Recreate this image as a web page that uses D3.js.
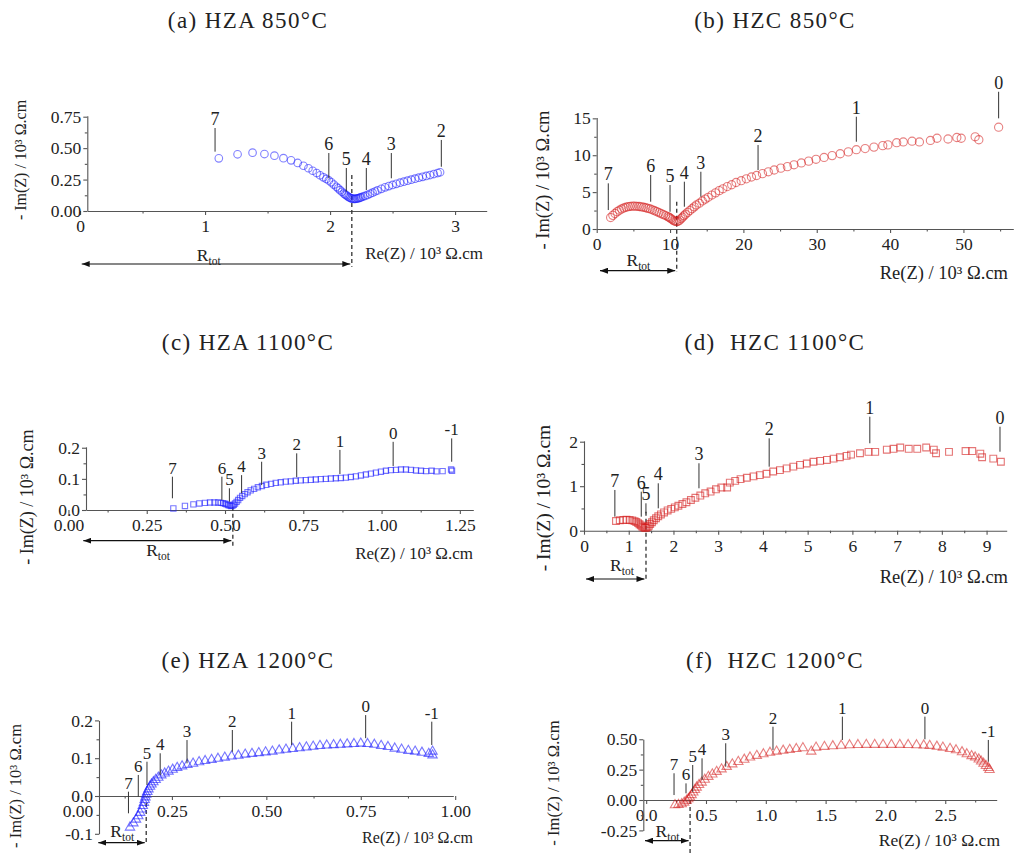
<!DOCTYPE html>
<html>
<head>
<meta charset="utf-8">
<script src="https://cdn.jsdelivr.net/npm/d3@7"></script>
<style>
  body { margin: 0; background: #fff; }
  svg { display: block; }
  text { font-family: "Liberation Serif", "Times New Roman", serif; fill: #222; white-space: pre; }
</style>
</head>
<body>
<svg id="fig" width="1016" height="854"></svg>
<script>
// Nyquist plots: Re(Z) vs -Im(Z), both in 10^3 Ω.cm, for HZA / HZC at three temperatures.

// ---- measured spectra: [Re, -Im] ----
const hza850 = [[1.11,0.419],[1.26,0.451],[1.38,0.464],[1.475,0.453],[1.555,0.44],[1.627,0.42],[1.688,0.403],[1.741,0.382],[1.787,0.36],[1.827,0.34],
  [1.861,0.32],[1.893,0.302],[1.92,0.284],[1.947,0.268],[1.97,0.255],[1.99,0.243],[2.01,0.228],[2.03,0.21],[2.05,0.193],[2.065,0.18],
  [2.08,0.166],[2.095,0.153],[2.11,0.14],[2.12,0.132],[2.13,0.125],[2.14,0.117],[2.15,0.11],[2.16,0.105],[2.17,0.101],[2.18,0.098],
  [2.19,0.097],[2.2,0.097],[2.21,0.098],[2.22,0.1],[2.23,0.103],[2.24,0.106],[2.25,0.11],[2.265,0.115],[2.28,0.12],[2.3,0.128],
  [2.32,0.137],[2.34,0.146],[2.36,0.155],[2.38,0.164],[2.41,0.176],[2.44,0.188],[2.47,0.198],[2.5,0.207],[2.53,0.216],[2.56,0.225],
  [2.59,0.233],[2.62,0.241],[2.65,0.249],[2.68,0.257],[2.71,0.265],[2.74,0.272],[2.77,0.279],[2.8,0.286],[2.83,0.294],[2.86,0.302],[2.88,0.308]];

const hzc850 = [[1.9,1.55],[2.2,1.85],[2.5,2.1],[2.8,2.35],[3.1,2.55],[3.4,2.72],[3.7,2.85],[4.0,2.95],[4.3,3.03],[4.6,3.08],
  [4.9,3.1],[5.2,3.1],[5.5,3.08],[5.8,3.05],[6.1,3.0],[6.4,2.95],[6.7,2.88],[7.0,2.8],[7.3,2.72],[7.6,2.6],
  [7.9,2.48],[8.2,2.35],[8.5,2.22],[8.8,2.08],[9.1,1.95],[9.4,1.82],[9.7,1.68],[9.9,1.56],[10.1,1.42],[10.3,1.28],
  [10.5,1.14],[10.7,1.04],[10.9,1.0],[11.1,1.05],[11.3,1.2],[11.5,1.4],[11.7,1.6],[11.9,1.8],[12.1,2.0],[12.4,2.25],
  [12.7,2.5],[13.0,2.75],[13.3,3.0],[13.6,3.25],[14.0,3.5],[14.4,3.8],[14.8,4.05],[15.2,4.3],[15.7,4.6],[16.2,4.9],
  [16.7,5.2],[17.2,5.45],[17.8,5.75],[18.4,6.0],[19.0,6.3],[19.7,6.55],[20.4,6.8],[21.1,7.05],[21.8,7.25],[22.6,7.5],
  [23.4,7.75],[24.2,8.0],[25.1,8.25],[26.0,8.45],[26.9,8.7],[27.9,8.95],[28.9,9.2],[29.9,9.45],[31.0,9.7],[32.1,9.95],
  [33.2,10.2],[34.3,10.45],[35.4,10.75],[36.6,10.9],[37.8,11.1],[39.0,11.3],[39.7,11.4],[40.9,11.7],[41.8,11.8],[43.0,11.9],
  [44.0,11.8],[45.5,12.0],[46.4,12.3],[47.9,12.2],[49.1,12.4],[49.7,12.3],[51.6,12.5],[52.1,12.1],[54.8,13.8]];

const hza1100 = [[0.335,0.005],[0.372,0.013],[0.399,0.018],[0.418,0.021],[0.436,0.023],[0.452,0.024],[0.466,0.024],[0.478,0.024],[0.487,0.023],[0.494,0.022],
  [0.5,0.02],[0.505,0.018],[0.51,0.016],[0.515,0.014],[0.52,0.013],[0.524,0.014],[0.528,0.017],[0.532,0.021],[0.537,0.026],[0.542,0.032],
  [0.548,0.039],[0.555,0.045],[0.563,0.051],[0.572,0.057],[0.582,0.063],[0.593,0.068],[0.605,0.073],[0.618,0.077],[0.632,0.081],[0.647,0.084],
  [0.662,0.087],[0.678,0.089],[0.694,0.091],[0.71,0.092],[0.726,0.094],[0.742,0.095],[0.758,0.096],[0.774,0.097],[0.79,0.098],[0.806,0.099],
  [0.822,0.1],[0.838,0.101],[0.854,0.102],[0.87,0.103],[0.886,0.104],[0.902,0.106],[0.918,0.108],[0.934,0.111],[0.95,0.114],[0.966,0.117],
  [0.982,0.12],[0.998,0.123],[1.014,0.126],[1.03,0.128],[1.046,0.129],[1.062,0.13],[1.078,0.13],[1.094,0.129],[1.11,0.127],[1.126,0.126],
  [1.142,0.125],[1.16,0.126],[1.175,0.124],[1.195,0.125],[1.222,0.13],[1.225,0.126]];

const hzc1100 = [[0.715,0.218],[0.8,0.235],[0.88,0.24],[0.95,0.245],[1.02,0.24],[1.08,0.232],[1.13,0.215],[1.17,0.195],[1.21,0.17],[1.24,0.145],
  [1.27,0.12],[1.3,0.095],[1.33,0.075],[1.36,0.065],[1.39,0.065],[1.42,0.08],[1.45,0.11],[1.48,0.15],[1.52,0.19],[1.56,0.235],
  [1.61,0.28],[1.66,0.325],[1.72,0.365],[1.79,0.41],[1.87,0.455],[1.95,0.49],[2.03,0.525],[2.11,0.56],[2.2,0.6],[2.29,0.64],
  [2.39,0.69],[2.49,0.74],[2.6,0.79],[2.71,0.84],[2.83,0.88],[2.95,0.93],[3.07,0.97],[3.2,0.97],[3.26,1.08],[3.38,1.12],
  [3.5,1.16],[3.64,1.19],[3.79,1.22],[3.93,1.25],[4.08,1.28],[4.23,1.33],[4.38,1.36],[4.53,1.4],[4.68,1.44],[4.83,1.48],
  [4.98,1.51],[5.13,1.55],[5.28,1.57],[5.43,1.59],[5.58,1.62],[5.72,1.65],[5.87,1.68],[5.97,1.71],[6.17,1.74],[6.36,1.77],
  [6.51,1.77],[6.77,1.82],[6.92,1.84],[7.07,1.87],[7.26,1.84],[7.45,1.84],[7.65,1.87],[7.82,1.82],[7.87,1.74],[8.16,1.77],
  [8.53,1.79],[8.68,1.79],[8.86,1.73],[8.9,1.65],[9.15,1.62],[9.32,1.55]];

const hza1200 = [[0.139,-0.083],[0.148,-0.072],[0.155,-0.062],[0.161,-0.053],[0.166,-0.044],[0.17,-0.035],[0.173,-0.026],[0.176,-0.018],[0.178,-0.01],[0.18,-0.003],
  [0.182,0.004],[0.185,0.011],[0.188,0.018],[0.192,0.025],[0.196,0.031],[0.201,0.037],[0.207,0.043],[0.214,0.049],[0.222,0.055],[0.231,0.06],
  [0.241,0.065],[0.252,0.07],[0.264,0.075],[0.277,0.079],[0.291,0.083],[0.306,0.086],[0.322,0.09],[0.338,0.093],[0.355,0.096],[0.372,0.099],
  [0.39,0.102],[0.408,0.105],[0.426,0.107],[0.444,0.11],[0.462,0.112],[0.48,0.114],[0.498,0.116],[0.516,0.118],[0.534,0.121],[0.552,0.123],
  [0.57,0.125],[0.588,0.127],[0.606,0.129],[0.624,0.131],[0.642,0.133],[0.66,0.134],[0.678,0.135],[0.696,0.136],[0.714,0.137],[0.732,0.138],
  [0.75,0.139],[0.768,0.138],[0.786,0.136],[0.804,0.133],[0.822,0.13],[0.84,0.126],[0.858,0.123],[0.876,0.12],[0.894,0.118],[0.912,0.115],
  [0.93,0.112],[0.94,0.108],[0.94,0.118]];

const hzc1200 = [[0.241,-0.041],[0.27,-0.038],[0.297,-0.033],[0.318,-0.02],[0.338,-0.005],[0.352,0.008],[0.366,0.022],[0.38,0.042],[0.394,0.063],[0.408,0.084],
  [0.422,0.104],[0.442,0.125],[0.464,0.145],[0.49,0.168],[0.52,0.192],[0.553,0.212],[0.589,0.233],[0.63,0.254],[0.673,0.274],[0.72,0.295],
  [0.77,0.315],[0.82,0.333],[0.868,0.351],[0.925,0.365],[0.98,0.378],[1.035,0.39],[1.09,0.4],[1.145,0.407],[1.2,0.414],[1.255,0.421],
  [1.31,0.428],[1.38,0.4],[1.42,0.433],[1.49,0.439],[1.56,0.444],[1.63,0.448],[1.7,0.452],[1.77,0.454],[1.84,0.455],[1.91,0.455],
  [1.98,0.455],[2.05,0.455],[2.12,0.455],[2.19,0.454],[2.26,0.452],[2.32,0.45],[2.37,0.447],[2.43,0.44],[2.48,0.433],[2.54,0.422],
  [2.59,0.411],[2.64,0.395],[2.68,0.378],[2.72,0.363],[2.75,0.351],[2.78,0.335],[2.8,0.318],[2.82,0.3],[2.84,0.282],[2.86,0.265],[2.87,0.249]];

// ---- frequency-decade annotations: [log f, Re, -Im at leader foot, -Im at leader head] ----
const hza850Dec  = [["7",1.08,0.472,0.66],["6",1.99,0.26,0.461],["5",2.13,0.154,0.342],["4",2.29,0.167,0.342],["3",2.49,0.26,0.461],["2",2.89,0.352,0.565]];
const hzc850Dec  = [["7",1.58,2.57,6.19],["6",7.36,3.7,7.32],["5",10.0,2.34,5.96],["4",11.95,3.02,6.41],["3",14.2,4.38,7.76],["2",22.0,7.99,11.38],["1",35.4,11.83,15.22],["0",54.8,15.0,18.6]];
const hza1100Dec = [["7",0.332,0.0376,0.107],["6",0.49,0.032,0.107],["5",0.514,0.0266,0.0697],["4",0.553,0.0536,0.112],["3",0.617,0.080,0.155],["2",0.729,0.105,0.182],["1",0.867,0.1156,0.193],["0",1.037,0.141,0.219],["-1",1.224,0.155,0.230]];
const hzc1100Dec = [["7",0.69,0.315,0.915],["6",1.28,0.315,0.876],["5",1.385,0.391,0.616],["4",1.66,0.503,1.065],["3",2.57,0.953,1.515],["2",4.14,1.438,2.076],["1",6.39,1.964,2.562],["0",9.30,1.775,2.337]];
const hza1200Dec = [["7",0.135,-0.0458,0.0114],["6",0.161,-0.0019,0.0556],["5",0.184,0.029,0.0907],["4",0.219,0.0556,0.113],["3",0.29,0.0865,0.148],["2",0.41,0.117,0.1746],["1",0.567,0.135,0.1966],["0",0.763,0.153,0.214],["-1",0.938,0.135,0.1966]];
const hzc1200Dec = [["7",0.233,0.041,0.22],["6",0.333,0.055,0.137],["5",0.389,0.068,0.288],["4",0.467,0.165,0.343],["3",0.665,0.274,0.467],["2",1.06,0.412,0.603],["1",1.64,0.494,0.686],["0",2.33,0.5,0.686],["-1",2.86,0.315,0.494]];

// ---- total resistance (10^3 Ω.cm) ----
const rTot = { a: 2.174, b: 10.91, c: 0.525, d: 1.386, e: 0.182, f: 0.367 };

// ---- tick values ----
const ticksReA = [0, 1, 2, 3],               ticksImA = [0, 0.25, 0.5, 0.75];
const ticksReB = [0, 10, 20, 30, 40, 50],    ticksImB = [0, 5, 10, 15];
const ticksReC = [0, 0.25, 0.5, 0.75, 1, 1.25], ticksImC = [0, 0.1, 0.2];
const ticksReD = [0, 1, 2, 3, 4, 5, 6, 7, 8, 9], ticksImD = [0, 1, 2];
const ticksReE = [0, 0.25, 0.5, 0.75, 1],    ticksImE = [-0.1, 0, 0.1, 0.2];
const ticksReF = [0, 0.5, 1, 1.5, 2, 2.5],   ticksImF = [-0.25, 0, 0.25, 0.5];

const midpoints = t => t.slice(1).map((v, i) => (v + t[i]) / 2);

const panels = [
  { key: "a", title: "(a) HZA 850°C", tx: 248, ty: 27.5, data: hza850, dec: hza850Dec, decFs: 18,
    mark: "circle", msize: 3.8, color: "#1a1aff", op: 0.55,
    x: { domain: [0.058, 3.253], range: [87.3, 486.7], ticks: ticksReA, minor: [0.5, 1.5, 2.5], fmt: "d" },
    y: { domain: [0, 0.758], range: [211, 115.7], ticks: ticksImA, minor: midpoints(ticksImA), fmt: ".2f" },
    xl: { x: 483, y: 258.5, fs: 17 }, yl: { x: 20, y: 160, fs: 16 },
    arrow: { x0: 81.7, y: 264, labDy: -9, labDx: -8, dashTop: 175, dashBot: 266.7 } },
  { key: "b", title: "(b) HZC 850°C", tx: 775, ty: 27.5, data: hzc850, dec: hzc850Dec, decFs: 18,
    mark: "circle", msize: 4.1, color: "#d41a1a", op: 0.55,
    x: { domain: [0, 56.8], range: [596.7, 1013.3], ticks: ticksReB, minor: [5, 15, 25, 35, 45, 55], fmt: "d" },
    y: { domain: [0, 15.1], range: [229, 117.6], ticks: ticksImB, minor: midpoints(ticksImB), fmt: "d" },
    xl: { x: 1008, y: 279, fs: 18.5 }, yl: { x: 543, y: 180, fs: 18.5 },
    arrow: { x0: 600, y: 270.7, labDy: -10.7, labDx: 0, dashTop: 201.7, dashBot: 272 } },
  { key: "c", title: "(c) HZA 1100°C", tx: 248, ty: 349.5, data: hza1100, dec: hza1100Dec, decFs: 17,
    mark: "square", msize: 28, color: "#1a1aff", op: 0.6,
    x: { domain: [0.056, 1.293], range: [86, 473.3], ticks: ticksReC, minor: [0.125, 0.375, 0.625, 0.875, 1.125], fmt: ".2f" },
    y: { domain: [0, 0.203], range: [510, 446.8], ticks: ticksImC, minor: midpoints(ticksImC), fmt: ".1f" },
    xl: { x: 473, y: 559, fs: 17 }, yl: { x: 27, y: 497, fs: 18 },
    arrow: { x0: 83.3, y: 540.7, labDy: 9.3, labDx: 0, dashTop: 506.7, dashBot: 546.7 } },
  { key: "d", title: "(d)  HZC 1100°C", tx: 775, ty: 349.5, data: hzc1100, dec: hzc1100Dec, decFs: 18,
    mark: "square", msize: 46, color: "#d41a1a", op: 0.6,
    x: { domain: [0, 9.45], range: [584, 1006.7], ticks: ticksReD, minor: [0.5, 1.5, 2.5, 3.5, 4.5, 5.5, 6.5, 7.5, 8.5, 9.5].filter(v => v < 9.45), fmt: "d" },
    y: { domain: [0, 2.02], range: [530.7, 440.8], ticks: ticksImD, minor: midpoints(ticksImD), fmt: "d" },
    xl: { x: 1008, y: 583, fs: 18.5 }, yl: { x: 543, y: 498, fs: 19.5 },
    arrow: { x0: 586, y: 579, labDy: -14, labDx: 6, dashTop: 511.7, dashBot: 580 } },
  { key: "e", title: "(e) HZA 1200°C", tx: 248, ty: 667.5, data: hza1200, dec: hza1200Dec, decFs: 17,
    mark: "triangle", msize: 38, color: "#1a1aff", op: 0.6,
    x: { domain: [0.057, 0.995], range: [99, 453.3], ticks: ticksReE, minor: [0.125, 0.375, 0.625, 0.875], fmt: ".2f" },
    y: { domain: [-0.1, 0.2], range: [833.8, 720.4], ticks: ticksImE, minor: midpoints(ticksImE), fmt: ".1f" },
    xl: { x: 473, y: 843, fs: 16 }, yl: { x: 15, y: 786, fs: 16.5 },
    arrow: { x0: 98.3, y: 842.7, labDy: -11, labDx: 0, dashTop: 803, dashBot: 844 } },
  { key: "f", title: "(f)  HZC 1200°C", tx: 775, ty: 667.5, data: hzc1200, dec: hzc1200Dec, decFs: 17,
    mark: "triangle", msize: 38, color: "#d41a1a", op: 0.55,
    x: { domain: [-0.024, 2.93], range: [643.3, 996.7], ticks: ticksReF, minor: [0.25, 0.75, 1.25, 1.75, 2.25, 2.75], fmt: ".1f" },
    y: { domain: [-0.25, 0.5], range: [830.4, 739.25], ticks: ticksImF, minor: midpoints(ticksImF), fmt: ".2f" },
    xl: { x: 1000, y: 846, fs: 17.5 }, yl: { x: 553, y: 783, fs: 16.7 },
    arrow: { x0: 645, y: 840.7, labDy: -9, labDx: 0, dashTop: 800, dashBot: 854 } }
];

const svg = d3.select("#fig");
svg.append("rect").attr("width", 1016).attr("height", 854).attr("fill", "#fff");

// double-headed arrow heads for the R_tot span
svg.append("defs").append("marker")
  .attr("id", "head").attr("viewBox", "0 0 8 6").attr("refX", 8).attr("refY", 3)
  .attr("markerWidth", 8).attr("markerHeight", 6).attr("markerUnits", "userSpaceOnUse")
  .attr("orient", "auto-start-reverse")
  .append("path").attr("d", "M0,0 L8,3 L0,6 Z").attr("fill", "#111");

const symbolType = { square: d3.symbolSquare, triangle: d3.symbolTriangle };
const axisColor = "#555";

function fmtTick(spec) {
  const f = d3.format(spec);
  return v => f(v).replace("\u2212", "-");
}

function styleAxis(sel, fs) {
  sel.attr("font-family", null).attr("font-size", null);
  sel.select(".domain").attr("stroke", axisColor).attr("stroke-width", 1.1);
  sel.selectAll(".tick line").attr("stroke", axisColor).attr("stroke-width", 1.1);
  sel.selectAll(".tick text").attr("fill", "#333").style("font-size", fs + "px");
}

function drawPanel(p) {
  const g = svg.append("g").attr("class", "panel-" + p.key);
  const x = d3.scaleLinear().domain(p.x.domain).range(p.x.range);
  const y = d3.scaleLinear().domain(p.y.domain).range(p.y.range);
  const yZero = y(0), xLeft = p.x.range[0];

  // title
  g.append("text").attr("x", p.tx).attr("y", p.ty).attr("text-anchor", "middle")
    .style("font-size", "23px").style("letter-spacing", "1.4px").attr("fill", "#111").text(p.title);

  // x axis along -Im = 0
  const gx = g.append("g").attr("transform", `translate(0,${yZero})`)
    .call(d3.axisBottom(x).tickValues(p.x.ticks).tickFormat(fmtTick(p.x.fmt))
      .tickSize(4).tickSizeOuter(0).tickPadding(5));
  styleAxis(gx, 17.5);
  const gxm = g.append("g").attr("transform", `translate(0,${yZero})`)
    .call(d3.axisBottom(x).tickValues(p.x.minor).tickFormat("").tickSize(2.5).tickSizeOuter(0));
  gxm.select(".domain").remove();
  styleAxis(gxm, 17.5);

  // y axis on the left edge
  const gy = g.append("g").attr("transform", `translate(${xLeft},0)`)
    .call(d3.axisLeft(y).tickValues(p.y.ticks).tickFormat(fmtTick(p.y.fmt))
      .tickSize(4).tickSizeOuter(0).tickPadding(2));
  styleAxis(gy, 17.5);
  const gym = g.append("g").attr("transform", `translate(${xLeft},0)`)
    .call(d3.axisLeft(y).tickValues(p.y.minor).tickFormat("").tickSize(2.5).tickSizeOuter(0));
  gym.select(".domain").remove();
  styleAxis(gym, 17.5);

  // axis titles
  g.append("text").attr("x", p.xl.x).attr("y", p.xl.y).attr("text-anchor", "end")
    .style("font-size", p.xl.fs + "px").attr("fill", "#333").text("Re(Z) / 10³ Ω.cm");
  g.append("text").attr("transform", `translate(${p.yl.x},${p.yl.y}) rotate(-90)`)
    .attr("text-anchor", "middle").attr("dy", "0.35em")
    .style("font-size", p.yl.fs + "px").attr("fill", "#333").text("- Im(Z) / 10³ Ω.cm");

  // R_tot marker: dashed drop line and double-headed span
  const xr = x(rTot[p.key]);
  g.append("line").attr("x1", xr).attr("x2", xr).attr("y1", p.arrow.dashTop).attr("y2", p.arrow.dashBot)
    .attr("stroke", "#333").attr("stroke-width", 1.3).attr("stroke-dasharray", "4,3");

  // data markers
  const gm = g.append("g").attr("fill", "none").attr("stroke", p.color)
    .attr("stroke-opacity", p.op).attr("stroke-width", 1.1);
  if (p.mark === "circle") {
    gm.selectAll("circle").data(p.data).join("circle")
      .attr("cx", d => x(d[0])).attr("cy", d => y(d[1])).attr("r", p.msize);
  } else {
    const sym = d3.symbol().type(symbolType[p.mark]).size(p.msize);
    gm.selectAll("path").data(p.data).join("path")
      .attr("transform", d => `translate(${x(d[0])},${y(d[1])})`).attr("d", sym);
  }

  g.append("line").attr("x1", p.arrow.x0).attr("x2", xr - 1.5).attr("y1", p.arrow.y).attr("y2", p.arrow.y)
    .attr("stroke", "#111").attr("stroke-width", 1.2)
    .attr("marker-start", "url(#head)").attr("marker-end", "url(#head)");
  const rl = g.append("text").attr("x", (p.arrow.x0 + xr) / 2 + p.arrow.labDx).attr("y", p.arrow.y + p.arrow.labDy + 5.5)
    .attr("text-anchor", "middle").style("font-size", "17.5px").attr("fill", "#222");
  rl.append("tspan").text("R");
  rl.append("tspan").attr("dy", 4).style("font-size", "11.5px").text("tot");

  // frequency-decade leaders
  const gd = g.append("g");
  gd.selectAll("line").data(p.dec).join("line")
    .attr("x1", d => x(d[1])).attr("x2", d => x(d[1]))
    .attr("y1", d => y(d[2])).attr("y2", d => y(d[3]))
    .attr("stroke", "#333").attr("stroke-width", 1);
  gd.selectAll("text").data(p.dec).join("text")
    .attr("x", d => x(d[1])).attr("y", d => y(d[3]) - 3)
    .attr("text-anchor", "middle").style("font-size", p.decFs + "px").attr("fill", "#222")
    .text(d => d[0]);
}

panels.forEach(drawPanel);
</script>
</body>
</html>
